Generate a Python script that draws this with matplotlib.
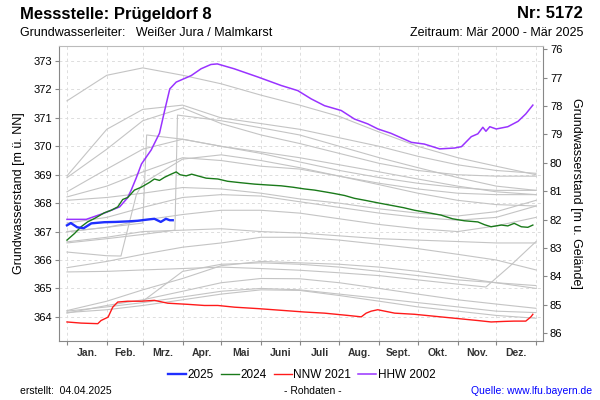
import matplotlib
matplotlib.use("Agg")
import matplotlib.pyplot as plt

plt.rcParams['font.family'] = ['Liberation Sans', 'DejaVu Sans']

# ---------------- data ----------------
month_starts = [0, 31, 59, 90, 120, 151, 181, 212, 243, 273, 304, 334, 365]
month_labels = ["Jan.", "Feb.", "Mrz.", "Apr.", "Mai", "Juni", "Juli", "Aug.", "Sept.", "Okt.", "Nov.", "Dez."]
ground_level = 449.42
left_ticks = [364, 365, 366, 367, 368, 369, 370, 371, 372, 373]
right_ticks = [76, 77, 78, 79, 80, 81, 82, 83, 84, 85, 86]

# HHW 2002
hhw_days = [0, 15, 29, 41, 47, 50, 54, 58, 65.5, 72, 76, 80, 85, 96.7, 104.4, 112, 117, 130, 148.5,
            166.7, 179.6, 190, 200.4, 213.4, 223.7, 234, 242, 252, 268, 278, 290, 301.6, 307, 314.6,
            319.7, 323.6, 326, 329, 334, 343, 351, 357, 362.5]
hhw_vals = [367.43, 367.43, 367.65, 367.87, 368.18, 368.46, 368.9, 369.38, 369.87, 370.46, 371.26, 372.02,
            372.26, 372.49, 372.73, 372.88, 372.9, 372.73, 372.44, 372.14, 371.96, 371.67, 371.43, 371.26,
            370.96, 370.79, 370.61, 370.46, 370.14, 370.08, 369.91, 369.94, 369.99, 370.34, 370.44, 370.67,
            370.53, 370.69, 370.61, 370.69, 370.88, 371.14, 371.45]

# 2024
y24_days = [0, 5.8, 11, 16, 21.4, 29, 34.4, 39.5, 43.4, 47.3, 52.5, 57.7, 64.2, 68, 72, 75.9, 81, 85,
            88, 92.8, 97, 101.8, 108.3, 117.4, 125, 135, 146, 156, 166.7, 176, 184.8, 192.6, 203, 208,
            216, 223.7, 232, 242, 255, 262, 270.4, 278, 291, 300, 309.3, 319.7, 325, 330, 338, 343, 348,
            353.5, 358.6, 362.5]
y24_vals = [366.7, 366.93, 367.17, 367.34, 367.46, 367.66, 367.75, 367.87, 368.13, 368.2, 368.46, 368.56,
            368.73, 368.85, 368.8, 368.91, 369.02, 369.1, 369.0, 368.96, 369.02, 368.96, 368.88, 368.85,
            368.77, 368.72, 368.67, 368.64, 368.61, 368.56, 368.5, 368.46, 368.38, 368.34, 368.27, 368.17,
            368.1, 368.01, 367.9, 367.84, 367.75, 367.69, 367.58, 367.45, 367.38, 367.34, 367.24, 367.17,
            367.23, 367.2, 367.29, 367.17, 367.15, 367.23]

# NNW 2021
nnw_days = [0, 11, 24, 26.5, 32, 35.6, 39.5, 47.3, 57.7, 68, 78.4, 94, 107, 117.4, 130.4, 148.5, 166.7,
            184.8, 200.4, 218.5, 229, 232.8, 236.7, 241.8, 255, 270.4, 286, 304, 319.7, 330, 340.4, 348,
            357, 361, 362.5]
nnw_vals = [363.82, 363.78, 363.76, 363.87, 363.99, 364.34, 364.52, 364.55, 364.55, 364.58, 364.48, 364.44,
            364.4, 364.4, 364.34, 364.29, 364.23, 364.17, 364.13, 364.05, 364.0, 364.13, 364.2, 364.25,
            364.13, 364.09, 364.02, 363.94, 363.87, 363.82, 363.84, 363.85, 363.85, 364.0, 364.09]

# 2025
y25_days = [0, 3, 8, 13, 19, 29, 38, 48, 55, 62, 68, 73, 77, 80, 82.3]
y25_vals = [367.22, 367.3, 367.15, 367.12, 367.29, 367.33, 367.34, 367.36, 367.38, 367.42, 367.45,
            367.34, 367.45, 367.4, 367.4]

# other years (grey)
grey_days = [0, 31, 59, 90, 120, 151, 181, 212, 243, 273, 304, 334, 365]
grey_g1 = [371.6, 372.5, 372.76, 372.5, 372.2, 371.8, 371.45, 371.05, 370.5, 370.0, 369.6, 369.3, 369.0]
grey_g2 = [368.96, 370.6, 371.3, 371.45, 371.0, 370.8, 370.6, 370.3, 370.0, 369.65, 369.35, 369.15, 369.05]
grey_g3 = [368.9, 369.9, 370.9, 371.35, 370.8, 370.4, 370.1, 369.75, 369.4, 369.15, 369.0, 368.95, 368.95]
grey_g7 = [368.4, 369.2, 369.9, 370.25, 370.0, 369.75, 369.45, 369.15, 368.9, 368.7, 368.55, 368.45, 368.45]
grey_g8 = [368.22, 368.6, 369.1, 369.6, 369.5, 369.3, 369.2, 368.95, 368.7, 368.5, 368.35, 368.3, 368.3]
grey_g9 = [368.1, 368.2, 368.35, 368.55, 368.5, 368.35, 368.15, 368.0, 367.8, 367.65, 367.55, 367.7, 368.1]
grey_g10 = [367.3, 367.5, 367.85, 368.2, 368.3, 368.25, 368.05, 367.85, 367.65, 367.5, 367.4, 367.5, 367.9]
grey_g11 = [366.99, 367.15, 367.4, 367.6, 367.75, 367.75, 367.65, 367.45, 367.25, 367.1, 367.0, 367.2, 367.5]
grey_g12 = [366.64, 366.8, 367.0, 367.05, 367.1, 367.0, 366.95, 366.85, 366.75, 366.7, 366.65, 366.6, 366.6]
grey_g14 = [365.73, 365.95, 366.2, 366.45, 366.6, 366.8, 366.8, 366.7, 366.55, 366.4, 366.2, 366.0, 365.65]
grey_g16 = [364.22, 364.55, 364.95, 365.35, 365.8, 365.95, 365.9, 365.85, 365.75, 365.6, 365.4, 365.2, 365.0]
grey_g17 = [364.13, 364.4, 364.6, 364.9, 365.2, 365.35, 365.34, 365.2, 365.0, 364.8, 364.6, 364.45, 364.3]
grey_g19 = [364.2, 364.35, 364.5, 364.7, 364.9, 365.0, 364.95, 364.8, 364.65, 364.5, 364.35, 364.2, 364.15]
grey_g20 = [364.15, 364.25, 364.4, 364.6, 364.8, 364.95, 364.93, 364.75, 364.55, 364.35, 364.2, 364.05, 363.95]
grey_regular = [grey_g1, grey_g2, grey_g3, grey_g7, grey_g8, grey_g9, grey_g10, grey_g11, grey_g12,
                grey_g14, grey_g16, grey_g17, grey_g19, grey_g20]

grey_g4_days = [0, 31, 59, 62, 90, 120, 151, 181, 212, 243, 273, 304, 334, 365]
grey_g4_vals = [367.0, 367.15, 367.3, 370.4, 370.25, 370.0, 369.8, 369.6, 369.35, 369.1, 368.85, 368.6, 368.4, 368.3]
grey_g5_days = [0, 31, 59, 84, 86, 120, 151, 181, 212, 243, 273, 304, 334, 365]
grey_g5_vals = [366.6, 366.75, 366.9, 367.05, 371.1, 370.9, 370.65, 370.4, 370.0, 369.6, 369.25, 368.9, 368.6, 368.45]
grey_g6_days = [0, 31, 42, 54, 59, 90, 120, 151, 181, 212, 243, 273, 304, 334, 365]
grey_g6_vals = [366.28, 366.15, 366.14, 368.3, 368.7, 369.55, 369.7, 369.5, 369.25, 368.95, 368.65, 368.35, 368.1, 367.95, 367.9]
grey_g15_days = [0, 31, 59, 90, 120, 151, 181, 212, 243, 273, 304, 326, 345, 365]
grey_g15_vals = [365.58, 365.6, 365.65, 365.7, 365.75, 365.7, 365.64, 365.55, 365.45, 365.3, 365.15, 365.05, 365.8, 366.65]
grey_g18_days = [59, 90, 120, 151, 181, 212, 243, 273, 304, 334, 365]
grey_g18_vals = [364.55, 365.6, 365.85, 365.9, 365.85, 365.75, 365.6, 365.45, 365.3, 365.2, 365.1]
grey_custom = [(grey_g4_days, grey_g4_vals), (grey_g5_days, grey_g5_vals), (grey_g6_days, grey_g6_vals),
               (grey_g15_days, grey_g15_vals), (grey_g18_days, grey_g18_vals)]

# ---------------- figure ----------------
fig = plt.figure(figsize=(6, 4), dpi=100)
ax = fig.add_axes([59/600, 1-341/400, (543-59)/600, (341-46)/400])

grey_col = "#c4c4c4"
for vals in grey_regular:
    ax.plot(grey_days, vals, color=grey_col, lw=0.8, zorder=2)
for d, v in grey_custom:
    ax.plot(d, v, color=grey_col, lw=0.8, zorder=2)

ax.plot(nnw_days, nnw_vals, color="#ff1a1a", lw=1.0, zorder=4, label="NNW 2021")
ax.plot(hhw_days, hhw_vals, color="#9933ff", lw=1.1, zorder=4, label="HHW 2002")
ax.plot(y24_days, y24_vals, color="#1a7a1a", lw=1.0, zorder=5, label="2024")
ax.plot(y25_days, y25_vals, color="#1f2fff", lw=1.7, zorder=6, label="2025")

ax.set_xlim(-6.2, 370.4)
ymin, ymax = 363.15, 373.53
ax.set_ylim(ymin, ymax)

ax.set_xticks(month_starts)
ax.set_xticklabels([])
mids = [(month_starts[i] + month_starts[i+1]) / 2 for i in range(12)]
ax.set_xticks(mids, minor=True)
ax.set_xticklabels(month_labels, minor=True, fontsize=7.5, fontweight='bold', color="#333333")
ax.tick_params(axis='x', which='minor', length=0, pad=5)
ax.tick_params(axis='x', which='major', length=3, color="#888888")
ax.set_yticks(left_ticks)
ax.tick_params(axis='y', length=3, color="#888888", labelsize=8, pad=2)

ax.grid(True, which='major', color="#dddddd", linestyle=(0, (3, 3)), lw=0.7)
for s in ['left', 'bottom', 'right']:
    ax.spines[s].set_color("#888888")
ax.spines['top'].set_color("#bbbbbb")

ax.set_ylabel("Grundwasserstand [m ü. NN]", fontsize=9, labelpad=6)

ax2 = ax.twinx()
ax2.set_ylim(ground_level - ymin, ground_level - ymax)
ax2.set_yticks(right_ticks)
ax2.tick_params(axis='y', length=3, color="#888888", labelsize=8, pad=2)
for s in ['left', 'bottom', 'right', 'top']:
    ax2.spines[s].set_visible(False)
ax2.set_ylabel("Grundwasserstand [m u. Gelände]", fontsize=9, rotation=270, labelpad=14)

# titles
fig.text(20/600, 1-14/400, "Messstelle: Prügeldorf 8", fontsize=12, fontweight='bold', va='center', ha='left')
fig.text(583/600, 1-14/400, "Nr: 5172", fontsize=12, fontweight='bold', va='center', ha='right')
fig.text(20/600, 1-33/400, "Grundwasserleiter:   Weißer Jura / Malmkarst", fontsize=9, va='center', ha='left')
fig.text(583/600, 1-33/400, "Zeitraum: Mär 2000 - Mär 2025", fontsize=9, va='center', ha='right')

# legend
handles, labels = ax.get_legend_handles_labels()
order = ["2025", "2024", "NNW 2021", "HHW 2002"]
hmap = dict(zip(labels, handles))
fig.legend([hmap[k] for k in order], order, loc='center', bbox_to_anchor=(0.503, 1-375/400), ncol=4,
           frameon=False, fontsize=8.5, handlelength=1.5, columnspacing=0.6, handletextpad=0.15)

# footer
fig.text(20/600, 1-391/400, "erstellt:  04.04.2025", fontsize=7.5, va='center', ha='left')
fig.text(313/600, 1-391/400, "- Rohdaten -", fontsize=7.5, va='center', ha='center')
fig.text(592/600, 1-391/400, "Quelle: www.lfu.bayern.de", fontsize=7.5, va='center', ha='right', color="#0000ff")

fig.savefig("out.png", dpi=100)
